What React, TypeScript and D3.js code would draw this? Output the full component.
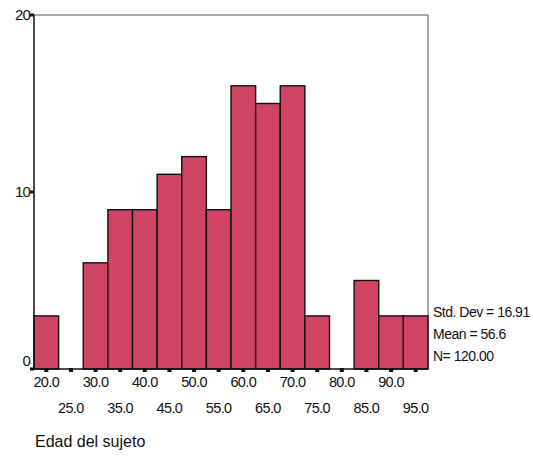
import React, { useEffect, useRef } from "react";
import * as d3 from "d3";

const binCenters = [20, 25, 30, 35, 40, 45, 50, 55, 60, 65, 70, 75, 80, 85, 90, 95];
const counts = [3, 0, 6, 9, 9, 11, 12, 9, 16, 15, 16, 3, 0, 5, 3, 3];
const yTicks = [0, 10, 20];
const stats = ["Std. Dev = 16.91", "Mean = 56.6", "N= 120.00"];
const xTitle = "Edad del sujeto";

export default function App() {
  const ref = useRef<SVGSVGElement>(null);

  useEffect(() => {
    const svg = d3.select(ref.current);
    svg.selectAll("*").remove();

    const left = 34, right = 428, top = 15, bottom = 369;
    const x = d3.scaleLinear().domain([17.5, 97.5]).range([left, right]);
    const y = d3.scaleLinear().domain([0, 20]).range([bottom, top]);
    const font = "Arial, 'Liberation Sans', sans-serif";

    // frame
    svg.append("path")
      .attr("d", `M${left},${top}H${right}V${bottom}`)
      .attr("fill", "none").attr("stroke", "#555").attr("stroke-width", 1);

    // bars
    svg.append("g")
      .selectAll("rect")
      .data(binCenters.map((c, i) => ({ c, v: counts[i] })).filter(d => d.v > 0))
      .join("rect")
      .attr("x", d => x(d.c - 2.5))
      .attr("y", d => y(d.v))
      .attr("width", d => x(d.c + 2.5) - x(d.c - 2.5))
      .attr("height", d => y(0) - y(d.v))
      .attr("fill", "#cf4462")
      .attr("stroke", "#111")
      .attr("stroke-width", 1.4);

    // axes lines
    svg.append("line").attr("x1", left).attr("x2", left).attr("y1", top).attr("y2", bottom)
      .attr("stroke", "#111").attr("stroke-width", 1.5);
    svg.append("line").attr("x1", left).attr("x2", right).attr("y1", bottom).attr("y2", bottom)
      .attr("stroke", "#111").attr("stroke-width", 1.5);

    // y ticks
    const yg = svg.append("g").attr("font-family", font).attr("font-size", 15).attr("fill", "#111");
    yg.selectAll("rect").data(yTicks).join("rect")
      .attr("x", left - 4).attr("y", d => y(d) - 1.5).attr("width", 4).attr("height", 3).attr("fill", "#111");
    yg.selectAll("text").data(yTicks).join("text")
      .attr("x", left - 4)
      .attr("y", d => (d === 0 ? y(d) - 3 : y(d) + 5))
      .attr("text-anchor", "end")
      .attr("letter-spacing", -0.8)
      .text(d => d);

    // x ticks
    const xg = svg.append("g").attr("font-family", font).attr("font-size", 14.5).attr("fill", "#111");
    xg.selectAll("rect").data(binCenters).join("rect")
      .attr("x", d => x(d) - 2).attr("y", bottom - 1).attr("width", 4).attr("height", 4).attr("fill", "#111");
    xg.selectAll("text").data(binCenters).join("text")
      .attr("x", d => x(d))
      .attr("y", (d, i) => (i % 2 === 0 ? 387 : 413))
      .attr("text-anchor", "middle")
      .attr("letter-spacing", -0.6)
      .text(d => d.toFixed(1));

    // stats
    svg.append("g").attr("font-family", font).attr("font-size", 14).attr("fill", "#111")
      .selectAll("text").data(stats).join("text")
      .attr("x", 433)
      .attr("y", (d, i) => 317 + i * 22)
      .attr("letter-spacing", -0.5)
      .text(d => d);

    svg.append("text")
      .attr("x", 35).attr("y", 447)
      .attr("font-family", font).attr("font-size", 16).attr("fill", "#111")
      .text(xTitle);
  }, []);

  return (
    <svg ref={ref} width={533} height={457}
      style={{ position: "absolute", left: 0, top: 0, background: "#fff" }} />
  );
}
